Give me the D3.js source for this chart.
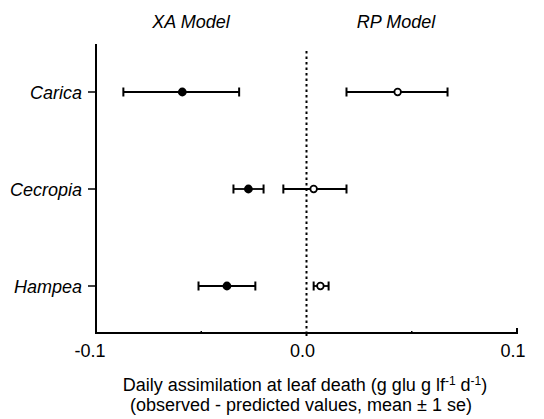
<!DOCTYPE html>
<html><head><meta charset="utf-8">
<script src="https://cdn.jsdelivr.net/npm/d3@7"></script>
<style>body{margin:0;background:#fff}svg{display:block;font-family:"Liberation Sans",Arial,sans-serif}</style>
</head><body><div id="chart"></div>
<script>
const categories = ["Carica", "Cecropia", "Hampea"];
const xaMean = [-0.059, -0.0276, -0.0378];
const xaLow  = [-0.087, -0.0347, -0.0513];
const xaHigh = [-0.032, -0.0204, -0.0243];
const rpMean = [0.0433, 0.0034, 0.0066];
const rpLow  = [0.019, -0.011, 0.0034];
const rpHigh = [0.067, 0.019, 0.0105];
const xTicks = [-0.1, 0.0, 0.1];
const xTickLabels = ["-0.1", "0.0", "0.1"];
const modelTitles = ["XA Model", "RP Model"];

const W = 544, H = 419;
const svg = d3.select("#chart").append("svg").attr("width", W).attr("height", H);
const x = d3.scaleLinear().domain([-0.1, 0.1]).range([96, 517]);
const y = d3.scalePoint().domain(categories).range([92, 286]);
const yTop = 44, yBot = 333;

// axes
svg.append("line").attr("x1", x(-0.1)).attr("x2", x(-0.1)).attr("y1", yTop).attr("y2", yBot + 1)
  .attr("stroke", "#000").attr("stroke-width", 2);
svg.append("line").attr("x1", x(-0.1) - 1).attr("x2", x(0.1) + 1).attr("y1", yBot).attr("y2", yBot)
  .attr("stroke", "#000").attr("stroke-width", 2);
// x ticks
svg.append("line").attr("x1", x(0)).attr("x2", x(0)).attr("y1", yBot).attr("y2", yBot + 3).attr("stroke", "#000").attr("stroke-width", 2);
svg.append("line").attr("x1", x(0.1)).attr("x2", x(0.1)).attr("y1", yBot).attr("y2", yBot - 5).attr("stroke", "#000").attr("stroke-width", 2);
[-0.05, 0.05].forEach(v => svg.append("line").attr("x1", x(v)).attr("x2", x(v)).attr("y1", yBot).attr("y2", yBot - 2).attr("stroke", "#000").attr("stroke-width", 1.5));
svg.selectAll(".xt").data(xTicks).enter().append("text")
  .attr("x", d => x(d) - (d < 0 ? 6 : 4)).attr("y", 357).attr("text-anchor", "middle")
  .attr("font-size", 18).text((d, i) => xTickLabels[i]);
// y ticks and labels
categories.forEach(c => {
  svg.append("line").attr("x1", 88).attr("x2", 96).attr("y1", y(c)).attr("y2", y(c)).attr("stroke", "#000").attr("stroke-width", 1.5);
  svg.append("text").attr("x", 82).attr("y", y(c) + 6.5).attr("text-anchor", "end")
    .attr("font-size", 18).attr("font-style", "italic").text(c);
});
// zero dotted line
svg.append("line").attr("x1", x(0)).attr("x2", x(0)).attr("y1", 51).attr("y2", yBot)
  .attr("stroke", "#000").attr("stroke-width", 2).attr("stroke-dasharray", "2.5,3");

// titles
svg.append("text").attr("x", 191).attr("y", 28).attr("text-anchor", "middle").attr("font-size", 18).attr("font-style", "italic").text(modelTitles[0]);
svg.append("text").attr("x", 396).attr("y", 28).attr("text-anchor", "middle").attr("font-size", 18).attr("font-style", "italic").text(modelTitles[1]);

// error bars
function errBars(mean, lo, hi, filled) {
  categories.forEach((c, i) => {
    const cy = y(c);
    const g = svg.append("g");
    g.append("line").attr("x1", x(lo[i])).attr("x2", x(hi[i])).attr("y1", cy).attr("y2", cy).attr("stroke", "#000").attr("stroke-width", 1.8);
    [lo[i], hi[i]].forEach(v => g.append("line").attr("x1", x(v)).attr("x2", x(v)).attr("y1", cy - 4.5).attr("y2", cy + 4.5).attr("stroke", "#000").attr("stroke-width", 2));
    if (filled) g.append("circle").attr("cx", x(mean[i])).attr("cy", cy).attr("r", 4.4).attr("fill", "#000");
    else g.append("circle").attr("cx", x(mean[i])).attr("cy", cy).attr("r", 3.3).attr("fill", "#fff").attr("stroke", "#000").attr("stroke-width", 1.8);
  });
}
errBars(xaMean, xaLow, xaHigh, true);
errBars(rpMean, rpLow, rpHigh, false);

// x axis title
const t1 = svg.append("text").attr("x", 305).attr("y", 391).attr("text-anchor", "middle").attr("font-size", 18);
t1.append("tspan").text("Daily assimilation at leaf death (g glu g lf");
t1.append("tspan").attr("font-size", 12).attr("dy", -6).text("-1");
t1.append("tspan").attr("dy", 6).text(" d");
t1.append("tspan").attr("font-size", 12).attr("dy", -6).text("-1");
t1.append("tspan").attr("dy", 6).text(")");
svg.append("text").attr("x", 301).attr("y", 411).attr("text-anchor", "middle").attr("font-size", 18)
  .text("(observed - predicted values, mean \u00b1 1 se)");
</script></body></html>
